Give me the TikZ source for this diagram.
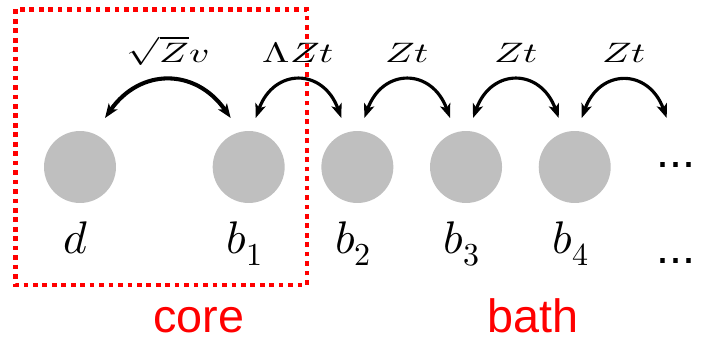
\documentclass[tikz,border=0pt]{standalone}
\usepackage{unicode-math}
\usepackage{graphicx}
\setmathfont{Latin Modern Math}
\newfontfamily\labelfont{Liberation Sans}
\usetikzlibrary{arrows.meta, positioning}

\begin{document}
\begin{tikzpicture}[
	x=0.02cm, y=0.02cm,
	node distance=0.72cm,
	site/.style={circle, fill=gray!50, minimum size=1.44cm, inner sep=0pt},
	lbl/.style={anchor=base, xshift=-0.08cm, font=\fontsize{26}{30}\selectfont},
	hop/.style={{Stealth[length=8pt, width=6pt, inset=2pt]}-{Stealth[length=8pt, width=6pt, inset=2pt]}, line width=1.8pt},
	amp/.style={anchor=base, yshift=0.36cm, font=\fontsize{16}{19}\selectfont},
	region/.style={anchor=base, text=red, font=\labelfont\fontsize{26.6}{30}\selectfont},
	more/.style={anchor=base, font=\labelfont\fontsize{26.6}{30}\selectfont},
	frame/.style={red, line width=2.55pt, dash pattern=on 2.66pt off 2.72pt}
	]
	\useasboundingbox (0,0) rectangle (712,344);
	
	% sites of the chain
	\node[site] (d) at (80,177) {};
	\node[site, right=1.92cm of d] (b1) {};
	\node[site, right=of b1] (b2) {};
	\node[site, right=of b2] (b3) {};
	\node[site, right=of b3] (b4) {};
	\coordinate[right=2.16cm of b4.center] (b5);
	
	\node[lbl] (ld) at ([yshift=-1.74cm]d.center) {$d$};
	\node[lbl] (lb1) at ([yshift=-1.74cm]b1.center) {$b_1$};
	\node[lbl] (lb2) at ([yshift=-1.74cm]b2.center) {$b_2$};
	\node[lbl] (lb3) at ([yshift=-1.74cm]b3.center) {$b_3$};
	\node[lbl] (lb4) at ([yshift=-1.74cm]b4.center) {$b_4$};
	
	\node[more] (dotsup) at ([xshift=-0.14cm, yshift=-0.01cm]b5) {...};
	\node[more] (dotslow) at ([xshift=-0.14cm, yshift=-1.93cm]b5) {...};
	
	% hoppings
	\draw[hop, line width=2.3pt] ([shift={(25,49)}]d.center) to[out=55, in=125, looseness=1.25]
		node[amp] {\scalebox{1.4}[1]{$\sqrt{Z}v$}} ([shift={(-18,49)}]b1.center);
	\draw[hop] ([shift={(7,49)}]b1.center) to[out=70, in=110, looseness=1.6]
		node[amp] {\scalebox{1.4}[1]{$\Lambda Z t$}} ([shift={(-16,49)}]b2.center);
	\draw[hop] ([shift={(7,49)}]b2.center) to[out=70, in=110, looseness=1.6]
		node[amp] {\scalebox{1.4}[1]{$Z t$}} ([shift={(-16,49)}]b3.center);
	\draw[hop] ([shift={(7,49)}]b3.center) to[out=70, in=110, looseness=1.6]
		node[amp] {\scalebox{1.4}[1]{$Z t$}} ([shift={(-16,49)}]b4.center);
	\draw[hop] ([shift={(7,49)}]b4.center) to[out=70, in=110, looseness=1.6]
		node[amp] {\scalebox{1.4}[1]{$Z t$}} ([shift={(-16,49)}]b5);
	
	% core / bath
	\draw[frame] (15.5,334.5) rectangle (307,59);
	\node[region] (core) at (199,11) {core};
	\node[region] (bath) at (533,11) {bath};
\end{tikzpicture}
\end{document}
